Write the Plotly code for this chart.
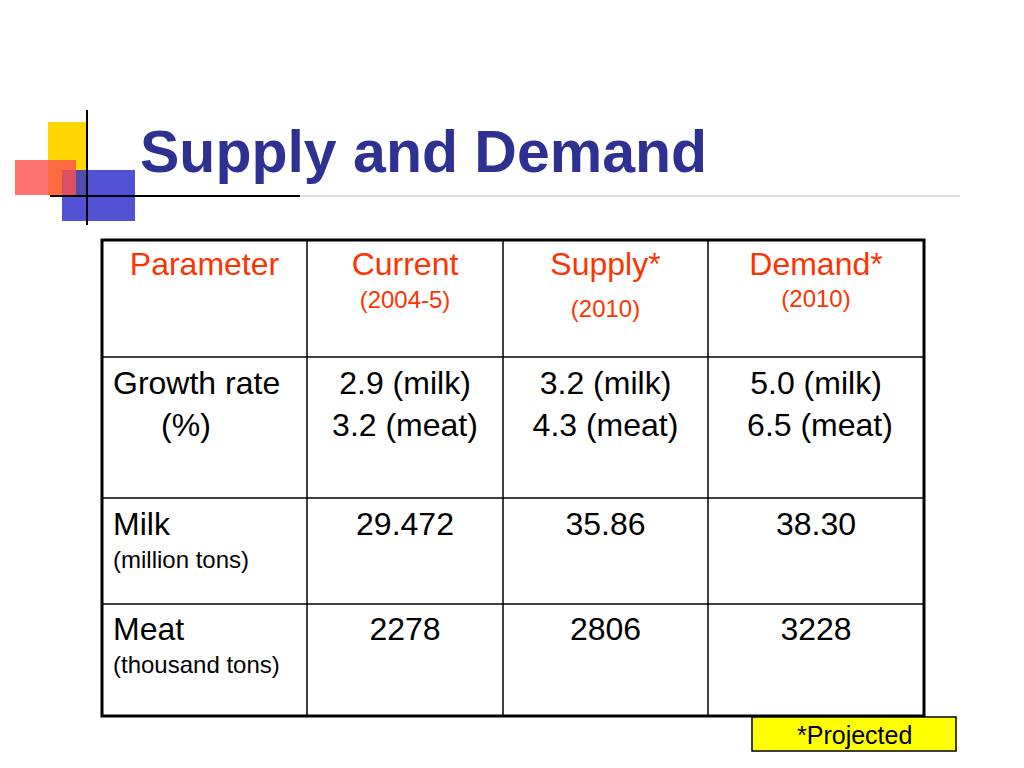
import plotly.graph_objects as go

# table data
headers = ["Parameter", "Current", "Supply*", "Demand*"]
header_sub = ["", "(2004-5)", "(2010)", "(2010)"]
row_labels = ["Growth rate", "Milk", "Meat"]
row_sub = ["(%)", "(million tons)", "(thousand tons)"]
growth_milk = ["2.9 (milk)", "3.2 (milk)", "5.0 (milk)"]
growth_meat = ["3.2 (meat)", "4.3 (meat)", "6.5 (meat)"]
milk = ["29.472", "35.86", "38.30"]
meat = ["2278", "2806", "3228"]

col_x = [102, 307, 503, 708, 924]
row_y = [240, 357, 498, 604, 716]
orange = "#FF3300"
blue = "#2E3192"
font = "Liberation Sans, Arial"
big = 32
small = 24

fig = go.Figure()

# logo decoration
fig.add_shape(type="rect", x0=48, x1=86, y0=122, y1=196, fillcolor="#FFD700", line_width=0, layer="below")
fig.add_shape(type="rect", x0=62, x1=135, y0=170, y1=221, fillcolor="#3333CC", line_width=0, layer="below", opacity=0.85)
fig.add_shape(type="rect", x0=15, x1=76, y0=160, y1=195, fillcolor="#FF5050", line_width=0, opacity=0.8)
fig.add_shape(type="line", x0=87, x1=87, y0=110, y1=225, line=dict(color="black", width=2))
fig.add_shape(type="line", x0=50, x1=300, y0=196, y1=196, line=dict(color="black", width=2))
fig.add_shape(type="line", x0=300, x1=960, y0=196, y1=196, line=dict(color="#DDDDDD", width=2))

fig.add_annotation(x=138, y=152, text="<b>Supply and Demand</b>", showarrow=False, xanchor="left",
                   font=dict(family=font, size=59, color=blue))

# grid
for x in col_x[1:-1]:
    fig.add_shape(type="line", x0=x, x1=x, y0=row_y[0], y1=row_y[-1], line=dict(color="black", width=1.5))
for y in row_y[1:-1]:
    fig.add_shape(type="line", x0=col_x[0], x1=col_x[-1], y0=y, y1=y, line=dict(color="black", width=1.5))
fig.add_shape(type="rect", x0=col_x[0], x1=col_x[-1], y0=row_y[0], y1=row_y[-1], line=dict(color="black", width=3))

centers = [(col_x[i] + col_x[i + 1]) / 2 for i in range(4)]
centers[3] = 816

# header
fig.add_trace(go.Scatter(x=centers, y=[267] * 4, mode="text", text=headers,
                         textfont=dict(family=font, size=big, color=orange)))
fig.add_trace(go.Scatter(x=centers[1:], y=[302, 311, 301], mode="text", text=header_sub[1:],
                         textfont=dict(family=font, size=small, color=orange)))

# row labels
fig.add_trace(go.Scatter(x=[113] * 3, y=[386, 527, 632], mode="text", text=row_labels, textposition="middle right",
                         textfont=dict(family=font, size=big, color="black")))
fig.add_trace(go.Scatter(x=[186], y=[428], mode="text", text=row_sub[:1],
                         textfont=dict(family=font, size=big, color="black")))
fig.add_trace(go.Scatter(x=[113] * 2, y=[562, 667], mode="text", text=row_sub[1:], textposition="middle right",
                         textfont=dict(family=font, size=small, color="black")))

# values
vx = centers[1:]
for vals, y in [(growth_milk, 386), (growth_meat, 428), (milk, 527), (meat, 632)]:
    xs = vx if vals is not growth_meat else [vx[0], vx[1], 820]
    fig.add_trace(go.Scatter(x=xs, y=[y] * 3, mode="text", text=vals,
                             textfont=dict(family=font, size=big, color="black")))

# projected note
fig.add_shape(type="rect", x0=752, x1=956, y0=717, y1=751, fillcolor="#FFFF00", line=dict(color="black", width=1.5))
fig.add_annotation(x=854, y=735, text="*Projected", showarrow=False, font=dict(family=font, size=25, color="black"))

# page body adds an 8px offset; shift the ranges to compensate
fig.update_layout(width=1024, height=768, margin=dict(l=0, r=0, t=0, b=0), showlegend=False,
                  plot_bgcolor="white", paper_bgcolor="white",
                  xaxis=dict(range=[8, 1032], visible=False, fixedrange=True),
                  yaxis=dict(range=[776, 8], visible=False, fixedrange=True))

fig.write_html("out.html")
